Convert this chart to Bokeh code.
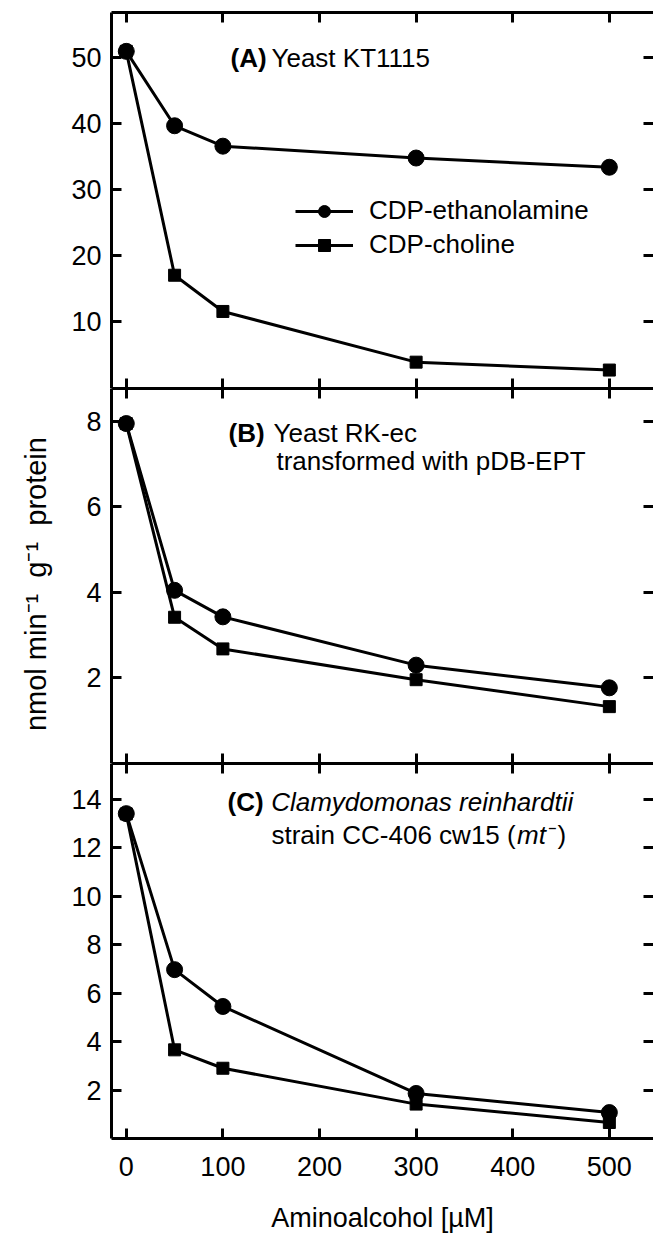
from bokeh.plotting import figure
from bokeh.models import (Range1d, FixedTicker, LinearAxis, Label, Legend, LegendItem)
from bokeh.layouts import column
from bokeh.embed import file_html
from bokeh.resources import INLINE

# ---- data ----
conc = [0, 50, 100, 300, 500]
x_ticks = [0, 100, 200, 300, 400, 500]

a_etn = [51.0, 39.7, 36.6, 34.8, 33.4]
a_cho = [51.0, 17.0, 11.5, 3.8, 2.6]
b_etn = [7.95, 4.05, 3.43, 2.30, 1.77]
b_cho = [7.95, 3.42, 2.68, 1.96, 1.33]
c_etn = [13.41, 6.97, 5.45, 1.86, 1.07]
c_cho = [13.40, 3.66, 2.90, 1.42, 0.66]

a_ticks = [10, 20, 30, 40, 50]
b_ticks = [2, 4, 6, 8]
c_ticks = [2, 4, 6, 8, 10, 12, 14]

series_names = ["CDP-ethanolamine", "CDP-choline"]
x_title = "Aminoalcohol [\u00b5M]"
NB = "\u00a0"
y_title = "nmol min\u207b\u00b9" + NB * 2 + "g\u207b\u00b9" + NB * 2 + "protein" + NB * 2

FONT = "Liberation Sans"
TICK_FS = "27px"
NOTE_FS = "26px"


def style_axis(ax, ticks, labels=False, line=True):
    ax.ticker = FixedTicker(ticks=ticks)
    ax.major_tick_in = 10
    ax.major_tick_out = 0
    ax.minor_tick_in = 0
    ax.minor_tick_out = 0
    ax.minor_tick_line_color = None
    ax.major_tick_line_width = 3
    ax.major_tick_line_color = "black"
    if line:
        ax.axis_line_width = 3
        ax.axis_line_color = "black"
    else:
        ax.axis_line_color = None
    if labels:
        ax.major_label_text_font = FONT
        ax.major_label_text_font_size = TICK_FS
        ax.major_label_text_color = "black"
    else:
        ax.major_label_text_color = None
        ax.major_label_text_font_size = "0px"
        ax.major_label_standoff = 0


def make_panel(yr, yt, etn, cho, frame_h, top=0, bottom=0, xlabels=False, ylab=None):
    p = figure(frame_width=542, frame_height=frame_h,
               x_range=Range1d(-15.3, 545.7), y_range=Range1d(*yr),
               output_backend="svg", toolbar_location=None, title=None,
               min_border_left=111, min_border_right=0,
               min_border_top=top, min_border_bottom=bottom)
    p.outline_line_color = None
    p.grid.visible = False
    p.background_fill_color = "white"
    p.border_fill_color = "white"

    style_axis(p.yaxis[0], yt, labels=True)
    p.yaxis[0].major_label_standoff = 10
    if ylab:
        p.yaxis[0].axis_label = ylab
        p.yaxis[0].axis_label_text_font = FONT
        p.yaxis[0].axis_label_text_font_size = "29px"
        p.yaxis[0].axis_label_text_font_style = "normal"
        p.yaxis[0].axis_label_text_color = "black"
        p.yaxis[0].axis_label_standoff = 31

    style_axis(p.xaxis[0], x_ticks, labels=xlabels)
    if xlabels:
        p.xaxis[0].major_label_standoff = 18
        p.xaxis[0].axis_label = x_title
        p.xaxis[0].axis_label_text_font = FONT
        p.xaxis[0].axis_label_text_font_size = TICK_FS
        p.xaxis[0].axis_label_text_font_style = "normal"
        p.xaxis[0].axis_label_text_color = "black"
        p.xaxis[0].axis_label_standoff = 24

    ax_top = LinearAxis()
    style_axis(ax_top, x_ticks)
    p.add_layout(ax_top, "above")
    ax_right = LinearAxis()
    style_axis(ax_right, yt, line=False)
    p.add_layout(ax_right, "right")

    l1 = p.line(conc, etn, line_width=3, line_color="black")
    l2 = p.line(conc, cho, line_width=3, line_color="black")
    s2 = p.scatter(conc, cho, marker="square", size=12, fill_color="black", line_color="black")
    s1 = p.scatter(conc, etn, marker="circle", size=16, fill_color="black", line_color="black")
    return p, (l1, s1), (l2, s2)


def note(p, x, y, text, style="normal"):
    p.add_layout(Label(x=x, y=y, text=text, text_font=FONT, text_font_size=NOTE_FS,
                       text_font_style=style, text_baseline="middle", text_align="left",
                       text_color="black"))


pa, ea, ca = make_panel((-0.2, 56.9), a_ticks, a_etn, a_cho, 376, top=12)
pb, _, _ = make_panel((0.0, 8.77), b_ticks, b_etn, b_cho, 375, ylab=y_title)
pc, _, _ = make_panel((0.0, 15.48), c_ticks, c_etn, c_cho, 375, bottom=99, xlabels=True)

# panel notes
note(pa, 107.9, 50.05, "(A)", "bold")
note(pa, 150.3, 50.05, "Yeast KT1115")

note(pb, 105.8, 7.74, "(B)", "bold")
note(pb, 152.4, 7.74, "Yeast RK-ec")
note(pb, 155.4, 7.08, "transformed with pDB-EPT")

note(pc, 104.8, 13.89, "(C)", "bold")
note(pc, 150.0, 13.89, "Clamydomonas reinhardtii", "italic")
note(pc, 150.3, 12.51, "strain CC-406 cw15 (")
note(pc, 404.5, 12.51, "mt", "italic")
note(pc, 437.0, 12.51, "\u207b)")

legend = Legend(items=[LegendItem(label=series_names[0], renderers=list(ea)),
                       LegendItem(label=series_names[1], renderers=list(ca))],
                location=(184, 128), margin=0, padding=0, spacing=3,
                glyph_width=58, glyph_height=30, label_height=30, label_standoff=16,
                label_text_font=FONT, label_text_font_size=NOTE_FS,
                label_text_color="black",
                border_line_color=None, background_fill_alpha=0)
pa.add_layout(legend)

layout = column(pa, pb, pc, spacing=0)
open("out.html", "w").write(file_html(layout, INLINE))
